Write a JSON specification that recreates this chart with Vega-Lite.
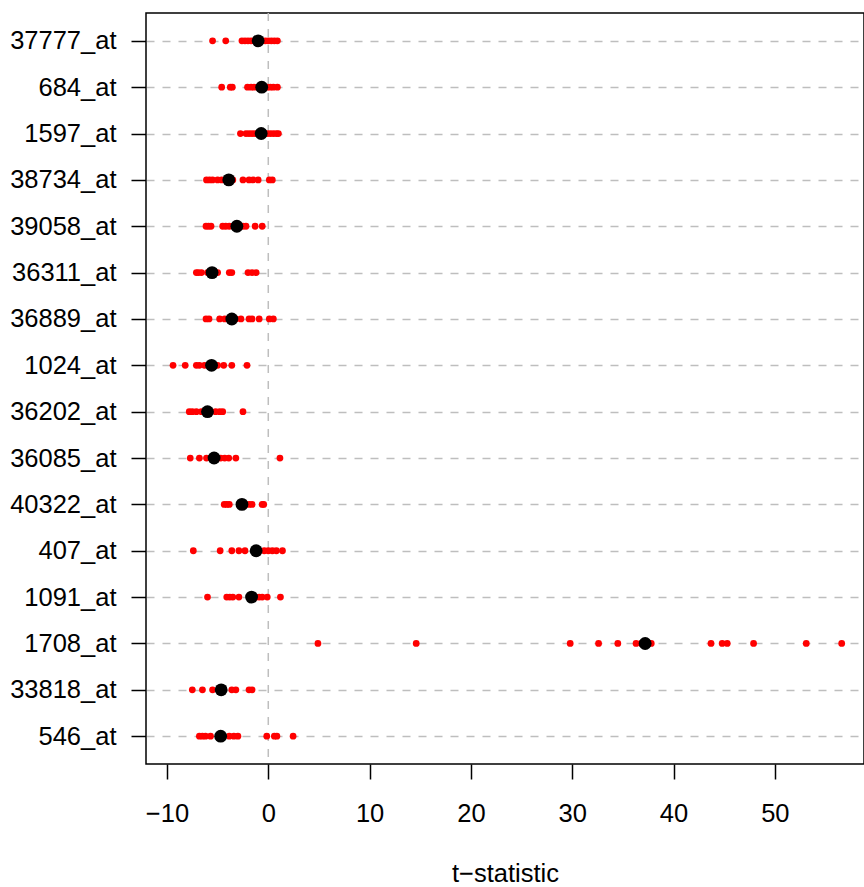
{
  "$schema": "https://vega.github.io/schema/vega-lite/v6.json",
  "width": 718,
  "height": 751,
  "padding": {"left": 8, "top": 12, "right": 0, "bottom": 0},
  "autosize": {"type": "pad"},
  "config": {
    "font": "Liberation Sans",
    "view": {"stroke": "black", "strokeWidth": 1.5}
  },
  "datasets": {
    "pts": [
      {"probe": "37777_at", "type": "obs", "t": -1.0},
      {"probe": "37777_at", "type": "sub", "t": -5.5},
      {"probe": "37777_at", "type": "sub", "t": -4.2},
      {"probe": "37777_at", "type": "sub", "t": -2.6},
      {"probe": "37777_at", "type": "sub", "t": -2.3},
      {"probe": "37777_at", "type": "sub", "t": -2.0},
      {"probe": "37777_at", "type": "sub", "t": -1.7},
      {"probe": "37777_at", "type": "sub", "t": -1.4},
      {"probe": "37777_at", "type": "sub", "t": -1.1},
      {"probe": "37777_at", "type": "sub", "t": -0.6},
      {"probe": "37777_at", "type": "sub", "t": -0.3},
      {"probe": "37777_at", "type": "sub", "t": 0.0},
      {"probe": "37777_at", "type": "sub", "t": 0.3},
      {"probe": "37777_at", "type": "sub", "t": 0.6},
      {"probe": "37777_at", "type": "sub", "t": 0.9},
      {"probe": "684_at", "type": "obs", "t": -0.65},
      {"probe": "684_at", "type": "sub", "t": -4.6},
      {"probe": "684_at", "type": "sub", "t": -3.75},
      {"probe": "684_at", "type": "sub", "t": -3.55},
      {"probe": "684_at", "type": "sub", "t": -2.05},
      {"probe": "684_at", "type": "sub", "t": -1.7},
      {"probe": "684_at", "type": "sub", "t": -1.4},
      {"probe": "684_at", "type": "sub", "t": -1.0},
      {"probe": "684_at", "type": "sub", "t": -0.4},
      {"probe": "684_at", "type": "sub", "t": -0.1},
      {"probe": "684_at", "type": "sub", "t": 0.2},
      {"probe": "684_at", "type": "sub", "t": 0.5},
      {"probe": "684_at", "type": "sub", "t": 0.9},
      {"probe": "1597_at", "type": "obs", "t": -0.7},
      {"probe": "1597_at", "type": "sub", "t": -2.75},
      {"probe": "1597_at", "type": "sub", "t": -2.2},
      {"probe": "1597_at", "type": "sub", "t": -1.9},
      {"probe": "1597_at", "type": "sub", "t": -1.6},
      {"probe": "1597_at", "type": "sub", "t": -1.3},
      {"probe": "1597_at", "type": "sub", "t": -1.0},
      {"probe": "1597_at", "type": "sub", "t": -0.4},
      {"probe": "1597_at", "type": "sub", "t": -0.1},
      {"probe": "1597_at", "type": "sub", "t": 0.2},
      {"probe": "1597_at", "type": "sub", "t": 0.5},
      {"probe": "1597_at", "type": "sub", "t": 0.8},
      {"probe": "1597_at", "type": "sub", "t": 1.0},
      {"probe": "38734_at", "type": "obs", "t": -3.9},
      {"probe": "38734_at", "type": "sub", "t": -6.1},
      {"probe": "38734_at", "type": "sub", "t": -5.8},
      {"probe": "38734_at", "type": "sub", "t": -5.5},
      {"probe": "38734_at", "type": "sub", "t": -5.0},
      {"probe": "38734_at", "type": "sub", "t": -4.6},
      {"probe": "38734_at", "type": "sub", "t": -4.2},
      {"probe": "38734_at", "type": "sub", "t": -3.5},
      {"probe": "38734_at", "type": "sub", "t": -2.5},
      {"probe": "38734_at", "type": "sub", "t": -1.9},
      {"probe": "38734_at", "type": "sub", "t": -1.5},
      {"probe": "38734_at", "type": "sub", "t": -1.0},
      {"probe": "38734_at", "type": "sub", "t": 0.1},
      {"probe": "38734_at", "type": "sub", "t": 0.4},
      {"probe": "39058_at", "type": "obs", "t": -3.1},
      {"probe": "39058_at", "type": "sub", "t": -6.15},
      {"probe": "39058_at", "type": "sub", "t": -5.9},
      {"probe": "39058_at", "type": "sub", "t": -5.65},
      {"probe": "39058_at", "type": "sub", "t": -4.5},
      {"probe": "39058_at", "type": "sub", "t": -4.2},
      {"probe": "39058_at", "type": "sub", "t": -3.85},
      {"probe": "39058_at", "type": "sub", "t": -3.4},
      {"probe": "39058_at", "type": "sub", "t": -2.5},
      {"probe": "39058_at", "type": "sub", "t": -2.2},
      {"probe": "39058_at", "type": "sub", "t": -1.3},
      {"probe": "39058_at", "type": "sub", "t": -0.6},
      {"probe": "36311_at", "type": "obs", "t": -5.55},
      {"probe": "36311_at", "type": "sub", "t": -7.1},
      {"probe": "36311_at", "type": "sub", "t": -6.9},
      {"probe": "36311_at", "type": "sub", "t": -6.6},
      {"probe": "36311_at", "type": "sub", "t": -6.0},
      {"probe": "36311_at", "type": "sub", "t": -5.0},
      {"probe": "36311_at", "type": "sub", "t": -3.85},
      {"probe": "36311_at", "type": "sub", "t": -3.6},
      {"probe": "36311_at", "type": "sub", "t": -2.0},
      {"probe": "36311_at", "type": "sub", "t": -1.6},
      {"probe": "36311_at", "type": "sub", "t": -1.2},
      {"probe": "36889_at", "type": "obs", "t": -3.6},
      {"probe": "36889_at", "type": "sub", "t": -6.15},
      {"probe": "36889_at", "type": "sub", "t": -5.85},
      {"probe": "36889_at", "type": "sub", "t": -4.8},
      {"probe": "36889_at", "type": "sub", "t": -4.3},
      {"probe": "36889_at", "type": "sub", "t": -3.2},
      {"probe": "36889_at", "type": "sub", "t": -2.7},
      {"probe": "36889_at", "type": "sub", "t": -1.9},
      {"probe": "36889_at", "type": "sub", "t": -1.6},
      {"probe": "36889_at", "type": "sub", "t": -0.9},
      {"probe": "36889_at", "type": "sub", "t": 0.1},
      {"probe": "36889_at", "type": "sub", "t": 0.5},
      {"probe": "1024_at", "type": "obs", "t": -5.6},
      {"probe": "1024_at", "type": "sub", "t": -9.4},
      {"probe": "1024_at", "type": "sub", "t": -8.2},
      {"probe": "1024_at", "type": "sub", "t": -7.1},
      {"probe": "1024_at", "type": "sub", "t": -6.8},
      {"probe": "1024_at", "type": "sub", "t": -6.3},
      {"probe": "1024_at", "type": "sub", "t": -5.0},
      {"probe": "1024_at", "type": "sub", "t": -4.4},
      {"probe": "1024_at", "type": "sub", "t": -3.6},
      {"probe": "1024_at", "type": "sub", "t": -2.1},
      {"probe": "36202_at", "type": "obs", "t": -6.0},
      {"probe": "36202_at", "type": "sub", "t": -7.8},
      {"probe": "36202_at", "type": "sub", "t": -7.5},
      {"probe": "36202_at", "type": "sub", "t": -7.1},
      {"probe": "36202_at", "type": "sub", "t": -6.6},
      {"probe": "36202_at", "type": "sub", "t": -5.2},
      {"probe": "36202_at", "type": "sub", "t": -4.8},
      {"probe": "36202_at", "type": "sub", "t": -4.5},
      {"probe": "36202_at", "type": "sub", "t": -2.5},
      {"probe": "36085_at", "type": "obs", "t": -5.35},
      {"probe": "36085_at", "type": "sub", "t": -7.7},
      {"probe": "36085_at", "type": "sub", "t": -6.8},
      {"probe": "36085_at", "type": "sub", "t": -6.1},
      {"probe": "36085_at", "type": "sub", "t": -4.7},
      {"probe": "36085_at", "type": "sub", "t": -4.3},
      {"probe": "36085_at", "type": "sub", "t": -3.9},
      {"probe": "36085_at", "type": "sub", "t": -3.2},
      {"probe": "36085_at", "type": "sub", "t": 1.15},
      {"probe": "40322_at", "type": "obs", "t": -2.6},
      {"probe": "40322_at", "type": "sub", "t": -4.35},
      {"probe": "40322_at", "type": "sub", "t": -4.1},
      {"probe": "40322_at", "type": "sub", "t": -3.85},
      {"probe": "40322_at", "type": "sub", "t": -1.9},
      {"probe": "40322_at", "type": "sub", "t": -1.6},
      {"probe": "40322_at", "type": "sub", "t": -0.6},
      {"probe": "40322_at", "type": "sub", "t": -0.45},
      {"probe": "407_at", "type": "obs", "t": -1.2},
      {"probe": "407_at", "type": "sub", "t": -7.4},
      {"probe": "407_at", "type": "sub", "t": -4.75},
      {"probe": "407_at", "type": "sub", "t": -3.6},
      {"probe": "407_at", "type": "sub", "t": -2.9},
      {"probe": "407_at", "type": "sub", "t": -2.3},
      {"probe": "407_at", "type": "sub", "t": -0.4},
      {"probe": "407_at", "type": "sub", "t": 0.0},
      {"probe": "407_at", "type": "sub", "t": 0.4},
      {"probe": "407_at", "type": "sub", "t": 0.8},
      {"probe": "407_at", "type": "sub", "t": 1.4},
      {"probe": "1091_at", "type": "obs", "t": -1.65},
      {"probe": "1091_at", "type": "sub", "t": -6.0},
      {"probe": "1091_at", "type": "sub", "t": -4.1},
      {"probe": "1091_at", "type": "sub", "t": -3.8},
      {"probe": "1091_at", "type": "sub", "t": -3.5},
      {"probe": "1091_at", "type": "sub", "t": -2.9},
      {"probe": "1091_at", "type": "sub", "t": -1.2},
      {"probe": "1091_at", "type": "sub", "t": -0.9},
      {"probe": "1091_at", "type": "sub", "t": -0.6},
      {"probe": "1091_at", "type": "sub", "t": -0.1},
      {"probe": "1091_at", "type": "sub", "t": 1.2},
      {"probe": "1708_at", "type": "obs", "t": 37.2},
      {"probe": "1708_at", "type": "sub", "t": 4.9},
      {"probe": "1708_at", "type": "sub", "t": 14.6},
      {"probe": "1708_at", "type": "sub", "t": 29.8},
      {"probe": "1708_at", "type": "sub", "t": 32.6},
      {"probe": "1708_at", "type": "sub", "t": 34.5},
      {"probe": "1708_at", "type": "sub", "t": 36.3},
      {"probe": "1708_at", "type": "sub", "t": 36.8},
      {"probe": "1708_at", "type": "sub", "t": 37.8},
      {"probe": "1708_at", "type": "sub", "t": 43.7},
      {"probe": "1708_at", "type": "sub", "t": 44.8},
      {"probe": "1708_at", "type": "sub", "t": 45.3},
      {"probe": "1708_at", "type": "sub", "t": 47.9},
      {"probe": "1708_at", "type": "sub", "t": 53.1},
      {"probe": "1708_at", "type": "sub", "t": 56.6},
      {"probe": "33818_at", "type": "obs", "t": -4.65},
      {"probe": "33818_at", "type": "sub", "t": -7.5},
      {"probe": "33818_at", "type": "sub", "t": -6.5},
      {"probe": "33818_at", "type": "sub", "t": -5.5},
      {"probe": "33818_at", "type": "sub", "t": -3.6},
      {"probe": "33818_at", "type": "sub", "t": -3.2},
      {"probe": "33818_at", "type": "sub", "t": -1.9},
      {"probe": "33818_at", "type": "sub", "t": -1.6},
      {"probe": "546_at", "type": "obs", "t": -4.7},
      {"probe": "546_at", "type": "sub", "t": -6.8},
      {"probe": "546_at", "type": "sub", "t": -6.5},
      {"probe": "546_at", "type": "sub", "t": -6.2},
      {"probe": "546_at", "type": "sub", "t": -5.7},
      {"probe": "546_at", "type": "sub", "t": -3.85},
      {"probe": "546_at", "type": "sub", "t": -3.4},
      {"probe": "546_at", "type": "sub", "t": -3.0},
      {"probe": "546_at", "type": "sub", "t": -0.15},
      {"probe": "546_at", "type": "sub", "t": 0.6},
      {"probe": "546_at", "type": "sub", "t": 0.85},
      {"probe": "546_at", "type": "sub", "t": 2.45}
    ],
    "ref": [{"t": 0}]
  },
  "layer": [
    {
      "data": {"name": "ref"},
      "mark": {"type": "rule", "color": "#BEBEBE", "strokeDash": [8, 8], "strokeWidth": 1.5},
      "encoding": {
        "x": {"field": "t", "type": "quantitative", "scale": {"domain": [-12.07, 58.8], "nice": false, "zero": false}}
      }
    },
    {
      "data": {"name": "pts"},
      "transform": [{"filter": "datum.type === 'sub'"}],
      "mark": {"type": "circle", "color": "#FF0000", "size": 46, "opacity": 1},
      "encoding": {
        "x": {"field": "t", "type": "quantitative"},
        "y": {
          "field": "probe", "type": "nominal",
          "sort": ["37777_at", "684_at", "1597_at", "38734_at", "39058_at", "36311_at", "36889_at", "1024_at", "36202_at", "36085_at", "40322_at", "407_at", "1091_at", "1708_at", "33818_at", "546_at"]
        }
      }
    },
    {
      "data": {"name": "pts"},
      "transform": [{"filter": "datum.type === 'obs'"}],
      "mark": {"type": "circle", "color": "black", "size": 165, "opacity": 1},
      "encoding": {
        "x": {
          "field": "t", "type": "quantitative",
          "axis": {
            "title": "t−statistic",
            "values": [-10, 0, 10, 20, 30, 40, 50],
            "format": "d",
            "grid": false,
            "domain": false,
            "tickSize": 15,
            "tickWidth": 1.5,
            "tickColor": "black",
            "labelFontSize": 25.5,
            "labelColor": "black",
            "labelPadding": 22,
            "labelFlush": false,
            "labelFont": "Liberation Sans",
            "titleFont": "Liberation Sans",
            "titleFontSize": 25.5,
            "titleFontWeight": "normal",
            "titleColor": "black",
            "titleBaseline": "alphabetic",
            "titleY": 117
          }
        },
        "y": {
          "field": "probe", "type": "nominal",
          "sort": ["37777_at", "684_at", "1597_at", "38734_at", "39058_at", "36311_at", "36889_at", "1024_at", "36202_at", "36085_at", "40322_at", "407_at", "1091_at", "1708_at", "33818_at", "546_at"],
          "scale": {"type": "point", "padding": 0.6},
          "axis": {
            "title": null,
            "grid": true,
            "gridColor": "#BEBEBE",
            "gridDash": [8, 8],
            "gridWidth": 1.5,
            "domain": false,
            "tickSize": 15,
            "tickWidth": 1.5,
            "tickColor": "black",
            "labelFontSize": 25.5,
            "labelColor": "black",
            "labelFont": "Liberation Sans",
            "labelPadding": 15,
            "labelOverlap": false,
            "minExtent": 138,
            "maxExtent": 138
          }
        }
      }
    }
  ]
}
